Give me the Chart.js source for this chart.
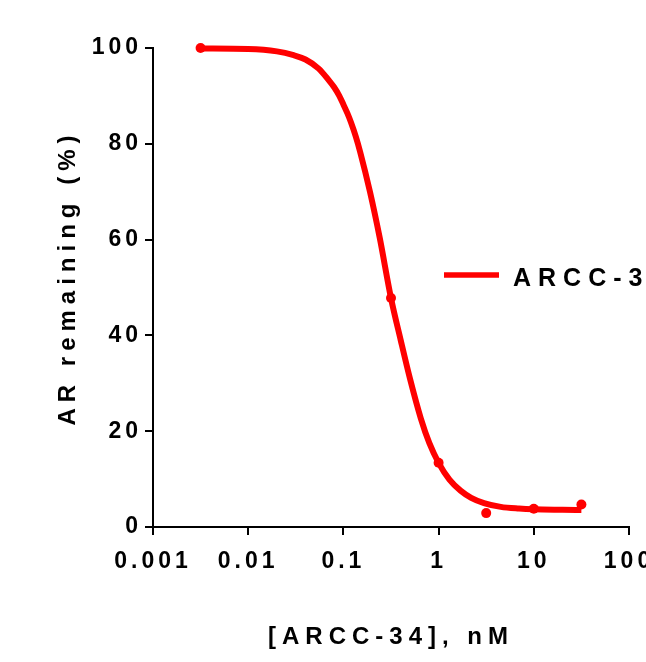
<!DOCTYPE html>
<html>
<head>
<meta charset="utf-8">
<script src="https://cdn.jsdelivr.net/npm/chart.js@4/dist/chart.umd.min.js"></script>
<style>
html, body { margin: 0; padding: 0; overflow: hidden; background: #fff; }
</style>
</head>
<body>
<canvas id="chart" width="720" height="662"></canvas>
<script>
// measured points
const concentrations = [0.003162, 0.3162, 1, 3.162, 10, 31.62];
const remaining = [100, 47.8, 13.4, 2.9, 3.8, 4.7];

// fitted curve
const fitX = [0.003162, 0.01, 0.02, 0.03, 0.04, 0.055, 0.07, 0.08, 0.09, 0.1, 0.11, 0.12, 0.135,
    0.15, 0.19, 0.24, 0.3162, 0.4, 0.5, 0.65, 0.8, 1, 1.3, 1.7, 2.2, 3, 4.5, 7, 10, 20, 31.62];
const fitY = [99.9, 99.8, 99.3, 98.5, 97.6, 95.7, 93.3, 91.8, 90.1, 88.2, 86.4, 84.5, 81.5,
    78.3, 70, 60.5, 47.8, 39, 31, 22.7, 17.5, 13.4, 9.9, 7.6, 6.1, 5, 4.2, 3.85, 3.7, 3.6, 3.55];

const xTicks = [0.001, 0.01, 0.1, 1, 10, 100];
const xTickLabels = ["0.001", "0.01", "0.1", "1", "10", "100"];
const yTicks = [0, 20, 40, 60, 80, 100];
const seriesName = "ARCC-34";

const font = "'Liberation Sans', Arial, sans-serif";
const red = "#ff0000";

// wide letter spacing like the original figure
const spacing = {
    id: "spacing",
    beforeLayout(chart) { chart.ctx.letterSpacing = "6px"; },
    beforeDraw(chart) {
        const ctx = chart.ctx;
        ctx.letterSpacing = "6px";
        Object.values(chart.scales).forEach(scale => {
            if (scale._patched) return;
            scale._patched = true;
            const drawLabels = scale.drawLabels;
            scale.drawLabels = function (area) {
                ctx.letterSpacing = "4px";
                drawLabels.call(this, area);
                ctx.letterSpacing = "6px";
            };
            if (scale.id === "y") {
                const drawTitle = scale.drawTitle;
                scale.drawTitle = function () {
                    ctx.save();
                    ctx.translate(0, -10);
                    drawTitle.call(this);
                    ctx.restore();
                };
            }
        });
    }
};

const legendLine = {
    id: "legendLine",
    afterDatasetsDraw(chart) {
        const ctx = chart.ctx;
        const ds = chart.data.datasets[0];
        ctx.save();
        ctx.strokeStyle = ds.borderColor;
        ctx.lineWidth = 5.5;
        ctx.beginPath();
        ctx.moveTo(444, 275);
        ctx.lineTo(499, 275);
        ctx.stroke();
        ctx.font = "bold 25px " + font;
        ctx.letterSpacing = "7px";
        ctx.fillStyle = "#000";
        ctx.textBaseline = "middle";
        ctx.textAlign = "left";
        ctx.fillText(ds.label, 513, 279);
        ctx.restore();
    }
};

const chart = new Chart("chart", {
    type: "scatter",
    data: {
        datasets: [{
            label: seriesName,
            data: fitX.map((x, i) => ({x: x, y: fitY[i]})),
            showLine: true,
            borderColor: red,
            backgroundColor: red,
            borderWidth: 6,
            pointRadius: 0,
            cubicInterpolationMode: "monotone",
            clip: false
        }, {
            label: "points",
            data: concentrations.map((x, i) => ({x: x, y: remaining[i]})),
            showLine: false,
            borderColor: red,
            backgroundColor: red,
            pointRadius: 5,
            pointBorderWidth: 0,
            clip: false
        }]
    },
    options: {
        responsive: false,
        animation: false,
        devicePixelRatio: 1,
        layout: {
            padding: {left: 0, top: 48, right: 91, bottom: 0}
        },
        scales: {
            x: {
                type: "logarithmic",
                min: 0.001,
                max: 100,
                afterBuildTicks(scale) {
                    scale.ticks = xTicks.map(v => ({value: v}));
                },
                afterFit(scale) {
                    scale.height = 135;
                },
                ticks: {
                    color: "#000",
                    font: {family: font, size: 23, weight: "bold"},
                    padding: 13,
                    maxRotation: 0,
                    autoSkip: false,
                    callback: (v, i) => xTickLabels[i]
                },
                grid: {
                    drawOnChartArea: false,
                    color: "#000",
                    lineWidth: 2,
                    tickLength: 8
                },
                border: {color: "#000", width: 2},
                title: {
                    display: true,
                    text: "[ARCC-34], nM",
                    color: "#000",
                    font: {family: font, size: 24, weight: "bold"},
                    padding: {top: 0, bottom: 10}
                }
            },
            y: {
                min: 0,
                max: 100,
                afterBuildTicks(scale) {
                    scale.ticks = yTicks.map(v => ({value: v}));
                },
                afterFit(scale) {
                    scale.width = 153;
                },
                ticks: {
                    color: "#000",
                    font: {family: font, size: 23, weight: "bold"},
                    padding: 3
                },
                grid: {
                    drawOnChartArea: false,
                    color: "#000",
                    lineWidth: 2,
                    tickLength: 8
                },
                border: {color: "#000", width: 2},
                title: {
                    display: true,
                    text: "AR remaining (%)",
                    color: "#000",
                    font: {family: font, size: 24, weight: "bold"},
                    padding: {top: 54, bottom: 0}
                }
            }
        },
        plugins: {
            legend: {display: false},
            tooltip: {enabled: false}
        }
    },
    plugins: [spacing, legendLine]
});
</script>
</body>
</html>
